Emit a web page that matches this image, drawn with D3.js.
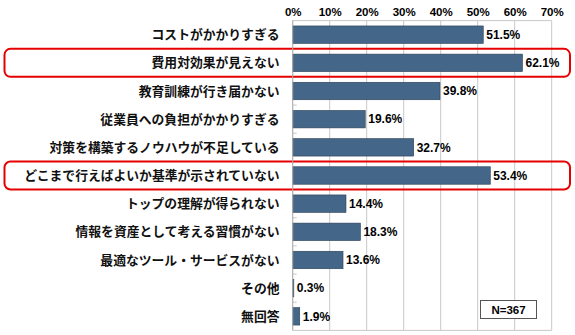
<!DOCTYPE html>
<html><head><meta charset="utf-8">
<script src="https://cdn.jsdelivr.net/npm/d3@7"></script>
<style>body{margin:0;background:#fff}svg{display:block}</style>
</head><body>
<script>
const categories = ["コストがかかりすぎる","費用対効果が見えない","教育訓練が行き届かない","従業員への負担がかかりすぎる","対策を構築するノウハウが不足している","どこまで行えばよいか基準が示されていない","トップの理解が得られない","情報を資産として考える習慣がない","最適なツール・サービスがない","その他","無回答"];
const values = [51.5,62.1,39.8,19.6,32.7,53.4,14.4,18.3,13.6,0.3,1.9];
const highlighted = ["費用対効果が見えない","どこまで行えばよいか基準が示されていない"];
const tickValues = [0,10,20,30,40,50,60,70];
const note = "N=367";

const W=575,H=335;
const m={left:292.7,right:24,top:20.6,bottom:4.6};
const svg=d3.select("body").append("svg").attr("width",W).attr("height",H);
const x=d3.scaleLinear().domain([0,70]).range([m.left,W-m.right+0.7]);
const y=d3.scaleBand().domain(categories).range([m.top,H-m.bottom]).paddingInner(0.38).paddingOuter(0.19);
const step=y.step();

// grid
svg.append("g").selectAll("line").data(tickValues).join("line")
 .attr("x1",d=>x(d)).attr("x2",d=>x(d)).attr("y1",m.top).attr("y2",H-m.bottom)
 .attr("stroke","#c8c8c8").attr("stroke-width",1);
svg.append("line").attr("x1",m.left).attr("x2",x(70)).attr("y1",m.top).attr("y2",m.top).attr("stroke","#c8c8c8");
svg.append("line").attr("x1",m.left).attr("x2",x(70)).attr("y1",H-m.bottom).attr("y2",H-m.bottom).attr("stroke","#c8c8c8");
// inner ticks at band boundaries
svg.append("g").selectAll("line").data(categories.slice(1)).join("line")
 .attr("x1",m.left).attr("x2",m.left+4)
 .attr("y1",d=>y(d)-step*y.paddingInner()/2).attr("y2",d=>y(d)-step*y.paddingInner()/2)
 .attr("stroke","#c8c8c8");

// top axis
const ax=d3.axisTop(x).tickValues(tickValues).tickFormat(d=>d+"%").tickSize(0).tickPadding(0);
const g=svg.append("g").attr("transform",`translate(0,16)`).call(ax);
g.select(".domain").remove();
g.selectAll("text").attr("font-family","Liberation Sans, Arial, sans-serif").attr("font-weight","bold").attr("font-size","11.5px").attr("fill","#000").attr("dy","0");

// highlight boxes
svg.append("g").selectAll("rect").data(highlighted).join("rect")
 .attr("x",4.5).attr("width",565.5)
 .attr("y",d=>y(d)+y.bandwidth()/2-14).attr("height",28)
 .attr("rx",6).attr("fill","none").attr("stroke","#e60000").attr("stroke-width",2);

// bars
svg.append("g").selectAll("rect").data(values).join("rect")
 .attr("x",x(0)).attr("y",(d,i)=>y(categories[i]))
 .attr("width",d=>x(d)-x(0)).attr("height",y.bandwidth())
 .attr("fill","#436689").attr("stroke","#2c3f55").attr("stroke-width",0.6);

// value labels
svg.append("g").selectAll("text").data(values).join("text")
 .attr("x",d=>x(d)+3).attr("y",(d,i)=>y(categories[i])+y.bandwidth()/2)
 .attr("dy","0.36em").text(d=>d.toFixed(1)+"%")
 .attr("font-family","Liberation Sans, Arial, sans-serif").attr("font-weight","bold").attr("font-size","12px");

// axis left
svg.append("line").attr("x1",m.left).attr("x2",m.left).attr("y1",m.top).attr("y2",H-m.bottom).attr("stroke","#b0b0b0");

// category labels
svg.append("g").selectAll("text").data(categories).join("text")
 .attr("x",279.5).attr("y",d=>y(d)+y.bandwidth()/2).attr("dy","0.36em")
 .attr("text-anchor","end").text(d=>d)
 .attr("font-family","Noto Sans CJK JP, sans-serif").attr("font-weight","bold").attr("font-size","12.8px").attr("fill","#111");

// N box
const nb=svg.append("g");
nb.append("rect").attr("x",480.5).attr("y",300.5).attr("width",56).attr("height",18).attr("fill","#fff").attr("stroke","#555").attr("stroke-width",1);
nb.append("text").attr("x",508.5).attr("y",309.5).attr("dy","0.36em").attr("text-anchor","middle").text(note)
 .attr("font-family","Liberation Sans, Arial, sans-serif").attr("font-weight","bold").attr("font-size","11.5px");
</script>
</body></html>
